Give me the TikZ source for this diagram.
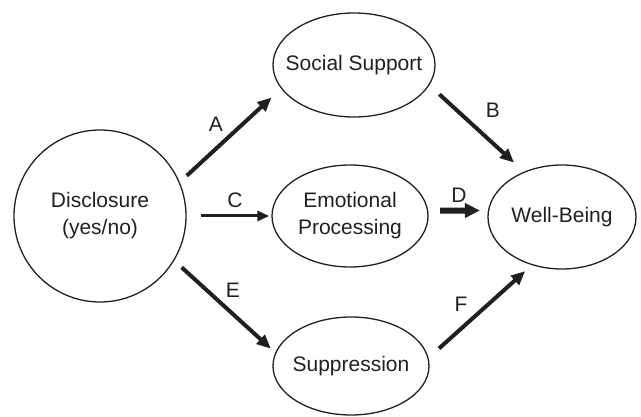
\documentclass[tikz,border=0pt]{standalone}
\usepackage{fontspec}
\setmainfont{Liberation Sans}
\usetikzlibrary{arrows.meta,shapes.geometric}
\definecolor{ink}{RGB}{35,31,32}

\begin{document}
\begin{tikzpicture}[x=1pt, y=-1pt,
  oval/.style={draw=ink, line width=1.3pt, ellipse, inner sep=-15pt, align=center, font=\fontsize{21}{27}\selectfont, text=ink},
  arr/.style={-{Triangle[length=14pt,width=12pt]}, line width=4pt, draw=ink},
  lab/.style={font=\fontsize{21}{25}\selectfont, text=ink},
]
\useasboundingbox (0,0) rectangle (641,417);

\node[oval, circle, minimum size=172pt] (disc) at (100,216) {Disclosure\\(yes/no)};
\node[oval, minimum width=162pt, minimum height=104pt] (soc) at (354,65) {Social Support};
\node[oval, minimum width=156pt, minimum height=102pt] (emo) at (350,216) {Emotional\\Processing};
\node[oval, minimum width=148pt, minimum height=104pt] (wb) at (562,217) {Well-Being};
\node[oval, minimum width=156pt, minimum height=98pt] (sup) at (351,366) {Suppression};

\draw[arr, shorten <=9.5pt, shorten >=13pt] (disc.23) -- (soc.198);
\draw[arr, shorten <=13.5pt, shorten >=13.5pt] (soc.345) -- (wb.130);
\draw[arr, line width=3pt, -{Triangle[length=12pt,width=10pt]}, shorten <=14pt, shorten >=2pt] (disc.0) -- (emo.180);
\draw[arr, line width=6pt, -{Triangle[length=15pt,width=14pt]}, shorten <=12pt, shorten >=8pt] (emo.4) -- (wb.175);
\draw[arr, shorten <=10pt, shorten >=6pt] (disc.-31) -- (sup.170);
\draw[arr, shorten <=14pt, shorten >=9pt] (sup.6) -- (wb.238);

% path labels
\node[lab] (la) at (216,124) {A};
\node[lab] (lb) at (493,110) {B};
\node[lab] (lc) at (235,200) {C};
\node[lab] (ld) at (459,195) {D};
\node[lab] (le) at (233,290) {E};
\node[lab] (lf) at (461,304) {F};
\end{tikzpicture}
\end{document}
